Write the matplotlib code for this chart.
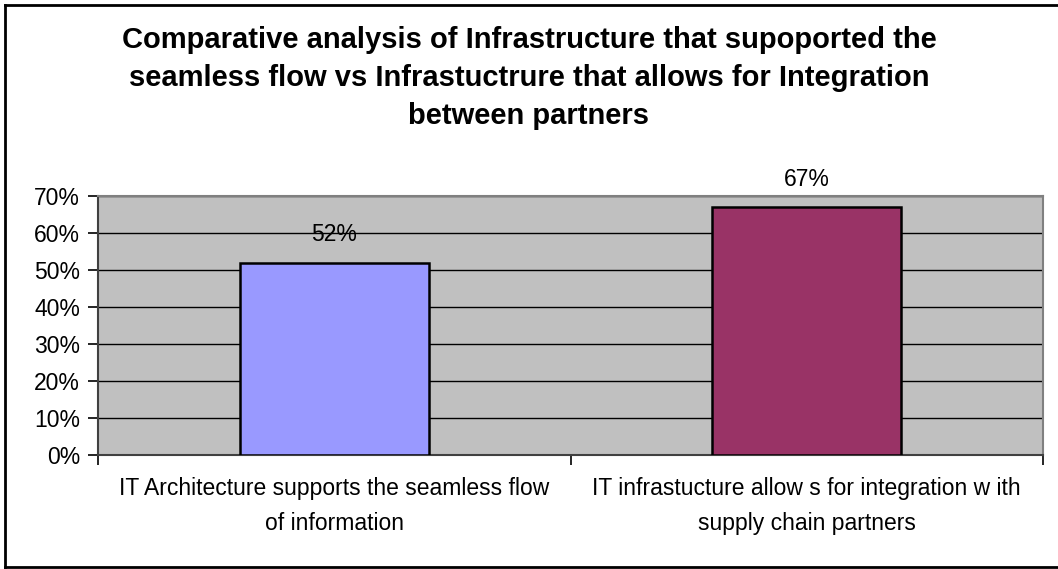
import matplotlib
matplotlib.use("Agg")
import matplotlib.pyplot as plt
from matplotlib.lines import Line2D

categories = [
    "IT Architecture supports the seamless flow\nof information",
    "IT infrastucture allow s for integration w ith\nsupply chain partners",
]
values = [0.52, 0.67]
bar_colors = ["#9999FF", "#993366"]
yticks = [0.0, 0.1, 0.2, 0.3, 0.4, 0.5, 0.6, 0.7]
title = ("Comparative analysis of Infrastructure that supoported the\n"
         "seamless flow vs Infrastuctrure that allows for Integration\n"
         "between partners")

plt.rcParams["font.family"] = ["Liberation Sans", "DejaVu Sans"]

fig = plt.figure(figsize=(10.58, 5.69), dpi=100)
ax = fig.add_axes([98 / 1058, 1 - 455 / 569, (1043 - 98) / 1058, (455 - 196) / 569])
ax.set_facecolor("#C0C0C0")

x = list(range(len(categories)))
bars = ax.bar(x, values, width=0.4, color=bar_colors, edgecolor="black",
              linewidth=1.8, zorder=3)

ax.set_xlim(-0.5, len(categories) - 0.5)
ax.set_ylim(0, 0.7)
ax.set_yticks(yticks)
ax.set_yticklabels([f"{t:.0%}" for t in yticks])
ax.yaxis.grid(True, color="black", linewidth=1.0, zorder=1)
ax.set_axisbelow(True)

ax.set_xticks(x)
ax.set_xticklabels(categories, fontsize=16.5, linespacing=1.68)
ax.set_xticks([i - 0.5 for i in range(len(categories) + 1)], minor=True)
ax.tick_params(axis="x", which="major", length=0, pad=16)
ax.tick_params(axis="x", which="minor", length=7, width=1.2, color="black")
ax.tick_params(axis="y", length=7, width=1.2, pad=6, labelsize=16.5)

for side in ["top", "right", "left", "bottom"]:
    ax.spines[side].set_color("#808080")
    ax.spines[side].set_linewidth(1.5)
ax.spines["bottom"].set_color("#404040")
ax.spines["left"].set_color("#404040")

for b, v in zip(bars, values):
    ax.annotate(f"{v:.0%}", (b.get_x() + b.get_width() / 2, v),
                xytext=(0, 20), textcoords="offset points",
                ha="center", va="center", fontsize=16.5)

fig.text(0.5, 1 - 78 / 569, title, ha="center", va="center",
         fontsize=21, fontweight="bold", linespacing=1.45)

# chart frame
frame_kw = dict(color="black", linewidth=2, transform=fig.transFigure)
fig.add_artist(Line2D([5 / 1058, 5 / 1058], [1 - 5 / 569, 1 - 567 / 569], **frame_kw))
fig.add_artist(Line2D([5 / 1058, 1.01], [1 - 5 / 569, 1 - 5 / 569], **frame_kw))
fig.add_artist(Line2D([5 / 1058, 1.01], [1 - 567 / 569, 1 - 567 / 569], **frame_kw))

fig.savefig("out.png", dpi=100, facecolor="white")
